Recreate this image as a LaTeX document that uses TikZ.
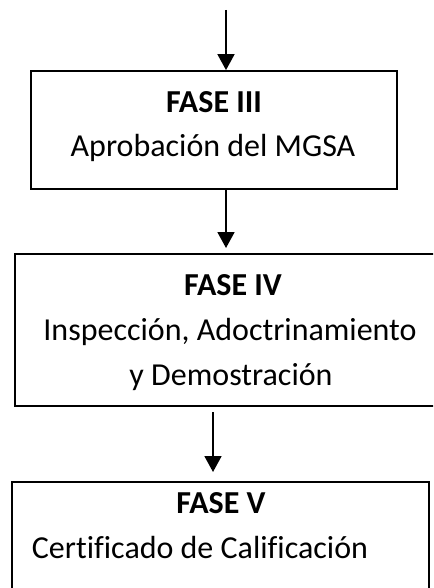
\documentclass[tikz,border=0pt]{standalone}
\usepackage{fontspec}
\setmainfont[Ligatures=CommonOff]{Carlito}
\usetikzlibrary{arrows.meta}
\begin{document}
\begin{tikzpicture}[x=1pt,y=-1pt,
  boxst/.style={draw=black,line width=1.8pt,minimum width=#1,inner sep=0pt},
  arr/.style={line width=1.8pt,-{Triangle[width=17pt,length=16pt]}},
  txt/.style={anchor=base,inner sep=0pt,font=\fontsize{32}{38}\selectfont}]
\useasboundingbox (0,0) rectangle (433,588);
\begin{scope}
\clip (0,0) rectangle (433,588);
\node[boxst=366pt,minimum height=118pt] (b1) at (214,130) {};
\node[boxst=425pt,minimum height=152pt] (b2) at (227.5,330) {};
\node[boxst=417pt,minimum height=118pt] (b3) at (220.5,541) {};
\end{scope}
\node[txt] (t1a) at (214,112.5) {\bfseries FASE III};
\node[txt] (t1b) at (213,157) {Aprobación del MGSA};
\node[txt] (t2a) at (233,295) {\bfseries FASE IV};
\node[txt] (t2b) at (230,340) {Inspección, Adoctrinamiento};
\node[txt] (t2c) at (231,385) {y Demostración};
\node[txt] (t3a) at (221,513) {\bfseries FASE V};
\node[txt] (t3b) at (200,558) {Certificado de Calificación};
\coordinate (a1s) at (226,10);
\coordinate (a2e) at (226,248);
\coordinate (a3s) at (213,412);
\coordinate (a3e) at (213,472);
\draw[arr] (a1s) -- (a1s |- b1.north);
\draw[arr] (b1.south -| a2e) -- (a2e);
\draw[arr] (a3s) -- (a3e);
\end{tikzpicture}
\end{document}
